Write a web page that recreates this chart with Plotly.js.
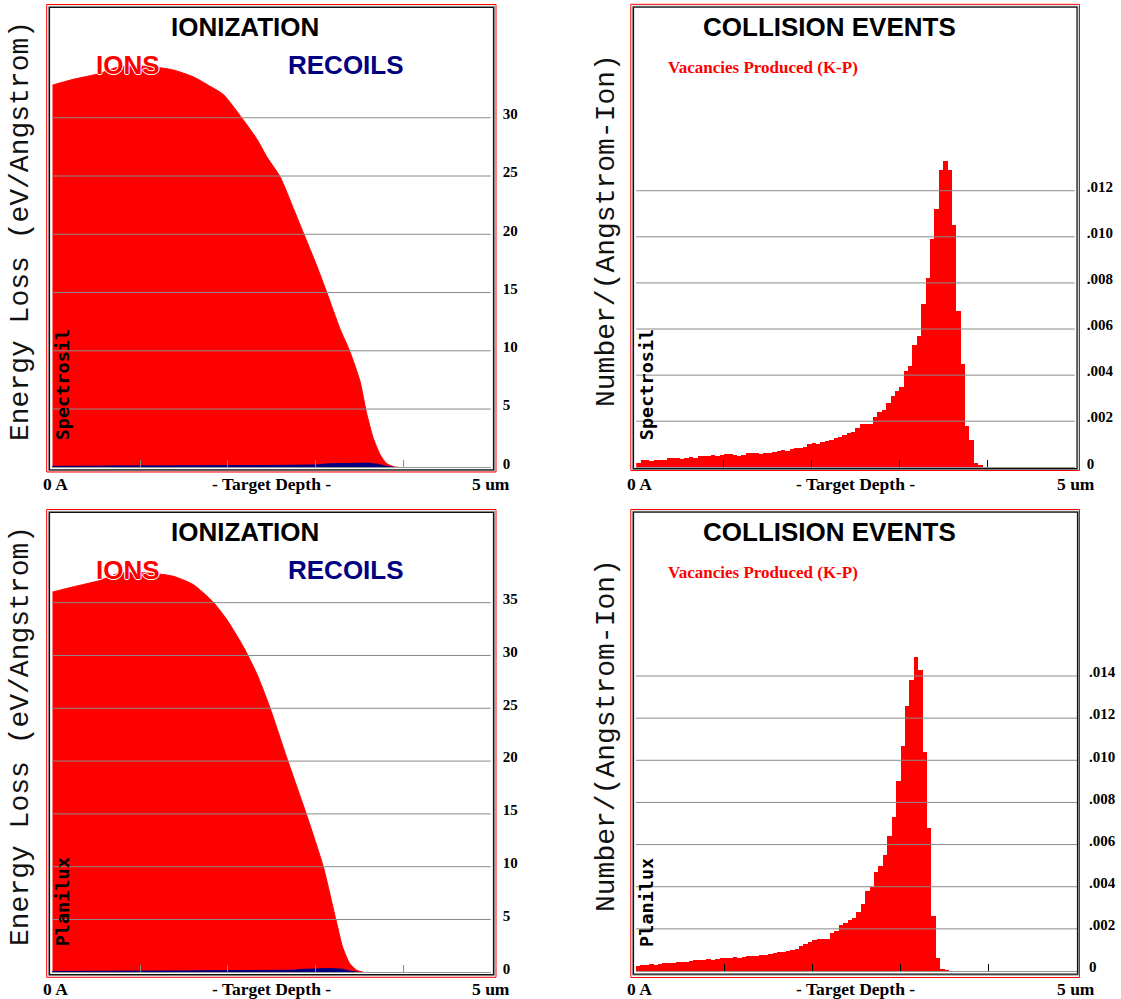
<!DOCTYPE html>
<html>
<head>
<meta charset="utf-8">
<script src="https://cdn.plot.ly/plotly-3.0.1.min.js"></script>
<style>html,body{margin:0;padding:0;background:#fff;}#chart{width:1121px;height:999px;}</style>
</head>
<body>
<div id="chart"></div>
<script>
// ---------------- DATA ----------------
// Ionization, Spectrosil (top-left): depth in um, energy loss eV/Angstrom
const tlDepth = [0, 0.24, 0.54, 0.77, 1.11, 1.38, 1.61, 1.80, 1.95, 2.14, 2.33, 2.45, 2.60, 2.75, 2.88, 3.01, 3.13, 3.28, 3.39, 3.51, 3.58, 3.66, 3.74, 3.81, 3.89, 3.95];
const tlIons  = [32.8, 33.3, 33.8, 34.4, 34.4, 34.1, 33.5, 32.7, 32.0, 30.2, 28.2, 26.6, 24.9, 22.2, 19.8, 17.4, 15.0, 11.9, 10.0, 7.35, 4.77, 2.5, 1.06, 0.34, 0.05, 0];
const tlRecDepth = [0, 0.25, 0.5, 0.75, 1.0, 1.25, 1.5, 1.75, 2.0, 2.25, 2.5, 2.75, 3.0, 3.15, 3.3, 3.45, 3.6, 3.72, 3.8, 3.9];
const tlRecoils  = [0.08, 0.12, 0.1, 0.12, 0.1, 0.12, 0.13, 0.12, 0.14, 0.15, 0.16, 0.18, 0.2, 0.3, 0.33, 0.38, 0.36, 0.25, 0.1, 0];

// Ionization, Planilux (bottom-left)
const blDepth = [0, 0.24, 0.54, 0.77, 1.11, 1.38, 1.61, 1.84, 1.99, 2.18, 2.33, 2.48, 2.67, 2.90, 3.09, 3.24, 3.31, 3.39, 3.47, 3.55];
const blIons  = [36.0, 36.5, 37.1, 37.8, 37.8, 37.5, 36.7, 35.0, 33.4, 30.8, 28.3, 25.1, 20.4, 14.9, 10.0, 4.76, 2.4, 0.85, 0.2, 0];
const blRecDepth = [0, 0.25, 0.5, 0.75, 1.0, 1.25, 1.5, 1.75, 2.0, 2.25, 2.5, 2.75, 2.86, 3.0, 3.15, 3.3, 3.4, 3.5];
const blRecoils  = [0.08, 0.1, 0.12, 0.1, 0.12, 0.12, 0.13, 0.14, 0.14, 0.15, 0.16, 0.2, 0.28, 0.32, 0.35, 0.3, 0.1, 0];

// Collision events: vacancies per 0.05 um bin (Number/(Angstrom-Ion))
const binWidth = 0.05;
const trVacancies = [
  0.0002, 0.0003, 0.0003, 0.00028, 0.0003, 0.00032, 0.0003,
  0.0004, 0.00042, 0.0004, 0.00038, 0.0004, 0.00045, 0.0004,
  0.0005, 0.00048, 0.0005, 0.00052, 0.0005,
  0.00055, 0.00058, 0.00056, 0.00054, 0.0005, 0.00055,
  0.0006, 0.00062, 0.0006, 0.00058, 0.0006, 0.00064, 0.00068,
  0.00072, 0.00075, 0.00072,
  0.0008, 0.00085, 0.00082, 0.00088,
  0.001, 0.00105, 0.001, 0.0011,
  0.00115, 0.0012, 0.00125, 0.0013,
  0.0014, 0.0015, 0.00155, 0.0017, 0.0019, 0.0019, 0.0019, 0.0022, 0.0024, 0.0025,
  0.0028, 0.0031, 0.0033, 0.0035, 0.0042, 0.0044, 0.0053, 0.0057, 0.0071, 0.0082,
  0.0099, 0.0112, 0.0129, 0.0133, 0.0129, 0.0105, 0.0068, 0.0045, 0.0018, 0.0012,
  0.0002, 0.0001
];
const brVacancies = [
  0.00025, 0.0003, 0.0003, 0.00032, 0.0003, 0.00035, 0.00038, 0.0004, 0.0004, 0.00042,
  0.00045, 0.00043, 0.00048, 0.0005, 0.0005, 0.00052, 0.00055, 0.00053, 0.00056, 0.0006,
  0.0006, 0.00062, 0.00065, 0.00063, 0.00066, 0.0007, 0.0007, 0.00072, 0.00075, 0.00078,
  0.0008, 0.00085, 0.00088, 0.0009, 0.00095, 0.001, 0.00105,
  0.0012, 0.0013, 0.0014, 0.00145, 0.0015, 0.0015, 0.0015, 0.0018, 0.0019, 0.0022,
  0.0023, 0.0024, 0.0025, 0.0028, 0.0032, 0.0038, 0.0040, 0.0047, 0.0050, 0.0055,
  0.0064, 0.0073, 0.0090, 0.0107, 0.0126, 0.0138, 0.0149, 0.0143, 0.0104, 0.0068,
  0.0026, 0.0006, 0.0001, 0.00005
];

// Tick labels
const ionTicksTop = [0, 5, 10, 15, 20, 25, 30];
const ionTicksBottom = [0, 5, 10, 15, 20, 25, 30, 35];
const vacTicksTop = [0, 0.002, 0.004, 0.006, 0.008, 0.010, 0.012];
const vacTicksBottom = [0, 0.002, 0.004, 0.006, 0.008, 0.010, 0.012, 0.014];
const vacTickText = v => v === 0 ? '0' : v.toFixed(3).replace(/^0/, '');
const depthTicks = [1, 2, 3, 4];

// Text
const ionTitle = 'IONIZATION', colTitle = 'COLLISION EVENTS';
const ionsLabel = 'IONS', recoilsLabel = 'RECOILS', vacLabel = 'Vacancies Produced (K-P)';
const ionYTitle = 'Energy Loss (eV/Angstrom)', vacYTitle = 'Number/(Angstrom-Ion)';
const xLeft = '0 A', xMid = '- Target Depth -', xRight = '5 um';
const materials = ['Spectrosil', 'Planilux'];

// ---------------- LAYOUT HELPERS ----------------
const W = 1121, H = 999;
const fx = p => p / W;
const fy = p => 1 - p / H;
const binCenters = arr => arr.map((_, i) => (i + 0.5) * binWidth);

const RED = '#ff0000', NAVY = '#000080';

const traces = [
  {x: tlDepth, y: tlIons, xaxis: 'x', yaxis: 'y', type: 'scatter', mode: 'lines', fill: 'tozeroy',
   fillcolor: RED, line: {color: RED, width: 1, shape: 'spline', smoothing: 0.6}},
  {x: tlRecDepth, y: tlRecoils, xaxis: 'x', yaxis: 'y', type: 'scatter', mode: 'lines', fill: 'tozeroy',
   fillcolor: NAVY, line: {color: NAVY, width: 1}},
  {x: binCenters(trVacancies), y: trVacancies, xaxis: 'x2', yaxis: 'y2', type: 'bar', width: binWidth,
   marker: {color: RED, line: {width: 0}}},
  {x: blDepth, y: blIons, xaxis: 'x3', yaxis: 'y3', type: 'scatter', mode: 'lines', fill: 'tozeroy',
   fillcolor: RED, line: {color: RED, width: 1, shape: 'spline', smoothing: 0.6}},
  {x: blRecDepth, y: blRecoils, xaxis: 'x3', yaxis: 'y3', type: 'scatter', mode: 'lines', fill: 'tozeroy',
   fillcolor: NAVY, line: {color: NAVY, width: 1}},
  {x: binCenters(brVacancies), y: brVacancies, xaxis: 'x4', yaxis: 'y4', type: 'bar', width: binWidth,
   marker: {color: RED, line: {width: 0}}}
];

const panels = [
  {id: '', xd: [52.3, 490.8], yd: [8, 467.3], yr: [0, 39.42], ticks: ionTicksTop, fmt: v => String(v),
   red: [46.7, 4.5, 496, 472], inner: [49.5, 7.3, 493.5, 469.8], tickc: '#888', off: 0, kind: 'ion', mat: 0},
  {id: '2', xd: [636.2, 1074.7], yd: [8, 467.3], yr: [0, 0.019928], ticks: vacTicksTop, fmt: vacTickText,
   red: [630.8, 4.3, 1079.5, 470.5], inner: [633.5, 7.2, 1077, 468.6], tickc: '#000', off: 0, kind: 'vac', mat: 0},
  {id: '3', xd: [52.3, 490.8], yd: [513, 972.3], yr: [0, 43.49], ticks: ionTicksBottom, fmt: v => String(v),
   red: [46.7, 509.5, 496, 977.3], inner: [49.5, 512.3, 493.5, 974.6], tickc: '#888', off: 505, kind: 'ion', mat: 1},
  {id: '4', xd: [635.9, 1076.9], yd: [513, 971], yr: [0, 0.021736], ticks: vacTicksBottom, fmt: vacTickText,
   red: [630.8, 509.5, 1079.5, 977.5], inner: [633.5, 512.2, 1077.5, 974.2], tickc: '#000', off: 505, kind: 'vac', mat: 1}
];

const layout = {
  width: W, height: H, margin: {l: 0, r: 0, t: 0, b: 0, pad: 0},
  paper_bgcolor: '#fff', plot_bgcolor: '#fff', showlegend: false,
  bargap: 0, shapes: [], annotations: []
};

const tickFont = {family: 'Liberation Serif, Times New Roman, serif', size: 15, color: '#000', weight: 'bold'};
const serifBold = (s, c) => ({family: 'Liberation Serif, Times New Roman, serif', size: s, color: c || '#000', weight: 'bold'});
const sansBold = (s, c) => ({family: 'Liberation Sans, Arial, sans-serif', size: s, color: c || '#000', weight: 'bold'});

function ann(text, x, y, font, extra) {
  layout.annotations.push(Object.assign({text, x: fx(x), y: fy(y), xref: 'paper', yref: 'paper',
    showarrow: false, xanchor: 'center', yanchor: 'middle', font}, extra || {}));
}

panels.forEach(p => {
  const xk = 'xaxis' + p.id, yk = 'yaxis' + p.id;
  layout[xk] = {domain: [fx(p.xd[0]), fx(p.xd[1])], range: [0, 5], anchor: 'y' + p.id,
    tickvals: depthTicks, ticks: 'inside', ticklen: 7, tickwidth: 1, tickcolor: p.tickc,
    showticklabels: false, showgrid: false, zeroline: false, showline: true, linecolor: '#999', linewidth: 1,
    fixedrange: true};
  layout[yk] = {domain: [fy(p.yd[1]), fy(p.yd[0])], range: p.yr, anchor: 'x' + p.id, side: 'right',
    tickvals: p.ticks, ticktext: p.ticks.map(p.fmt), ticks: 'outside', ticklen: 8, tickcolor: 'rgba(0,0,0,0)',
    ticklabelshift: -4, tickfont: tickFont, showgrid: false, zeroline: false, showline: false, fixedrange: true};
  // gridlines drawn above the data, at the axis tick values
  p.ticks.filter(v => v > 0).forEach(v => layout.shapes.push({type: 'line', xref: 'x' + p.id + ' domain', x0: 0, x1: 1,
    yref: 'y' + p.id, y0: v, y1: v, layer: 'above', line: {color: '#8a8a8a', width: 1}}));
  // frames
  layout.shapes.push({type: 'rect', xref: 'paper', yref: 'paper', x0: fx(p.inner[0] - 1), x1: fx(p.inner[2] + 1),
    y0: fy(p.inner[1] - 1), y1: fy(p.inner[3] + 1), layer: 'above', line: {color: '#9a9a9a', width: 1}});
  layout.shapes.push({type: 'rect', xref: 'paper', yref: 'paper', x0: fx(p.inner[0]), x1: fx(p.inner[2]),
    y0: fy(p.inner[1]), y1: fy(p.inner[3]), layer: 'above', line: {color: '#111', width: 1.2}});
  layout.shapes.push({type: 'rect', xref: 'paper', yref: 'paper', x0: fx(p.red[0]), x1: fx(p.red[2]),
    y0: fy(p.red[1]), y1: fy(p.red[3]), layer: 'above', line: {color: RED, width: 1}});

  const o = p.off;
  // x-axis labels
  ann(xLeft, p.xd[0] + 3.5, 484 + o, serifBold(17.5));
  ann(xMid, p.kind === 'ion' ? 271 : 855, 484 + o, serifBold(17.5));
  ann(xRight, p.kind === 'ion' ? 491 : 1076, 484 + o, serifBold(17.5));
  // material
  ann(materials[p.mat], p.xd[0] + 10, (p.mat === 0 ? 385 : 902),
      {family: 'DejaVu Sans Mono, monospace', size: 18.5, color: '#000', weight: 'bold'}, {textangle: -90});
  if (p.kind === 'ion') {
    ann(ionTitle, 245, 27 + o, sansBold(26));
    ann(ionsLabel, 127.5, 65 + o, Object.assign(sansBold(26, RED), {shadow: '1px 0 0 #fff, -1px 0 0 #fff, 0 1px 0 #fff, 0 -1px 0 #fff'}));
    ann(recoilsLabel, 345.7, 65 + o, sansBold(26, NAVY));
    ann(ionYTitle, 20, 231 + o, {family: 'Liberation Mono, Courier New, monospace', size: 28, color: '#111'}, {textangle: -90});
  } else {
    ann(colTitle, 829.5, 27 + o, sansBold(26));
    ann(vacLabel, 763, 67 + o, serifBold(17, RED));
    ann(vacYTitle, 606, 231 + o, {family: 'Liberation Mono, Courier New, monospace', size: 28, color: '#111'}, {textangle: -90});
  }
});

Plotly.newPlot('chart', traces, layout, {staticPlot: true, displayModeBar: false});
</script>
</body>
</html>
